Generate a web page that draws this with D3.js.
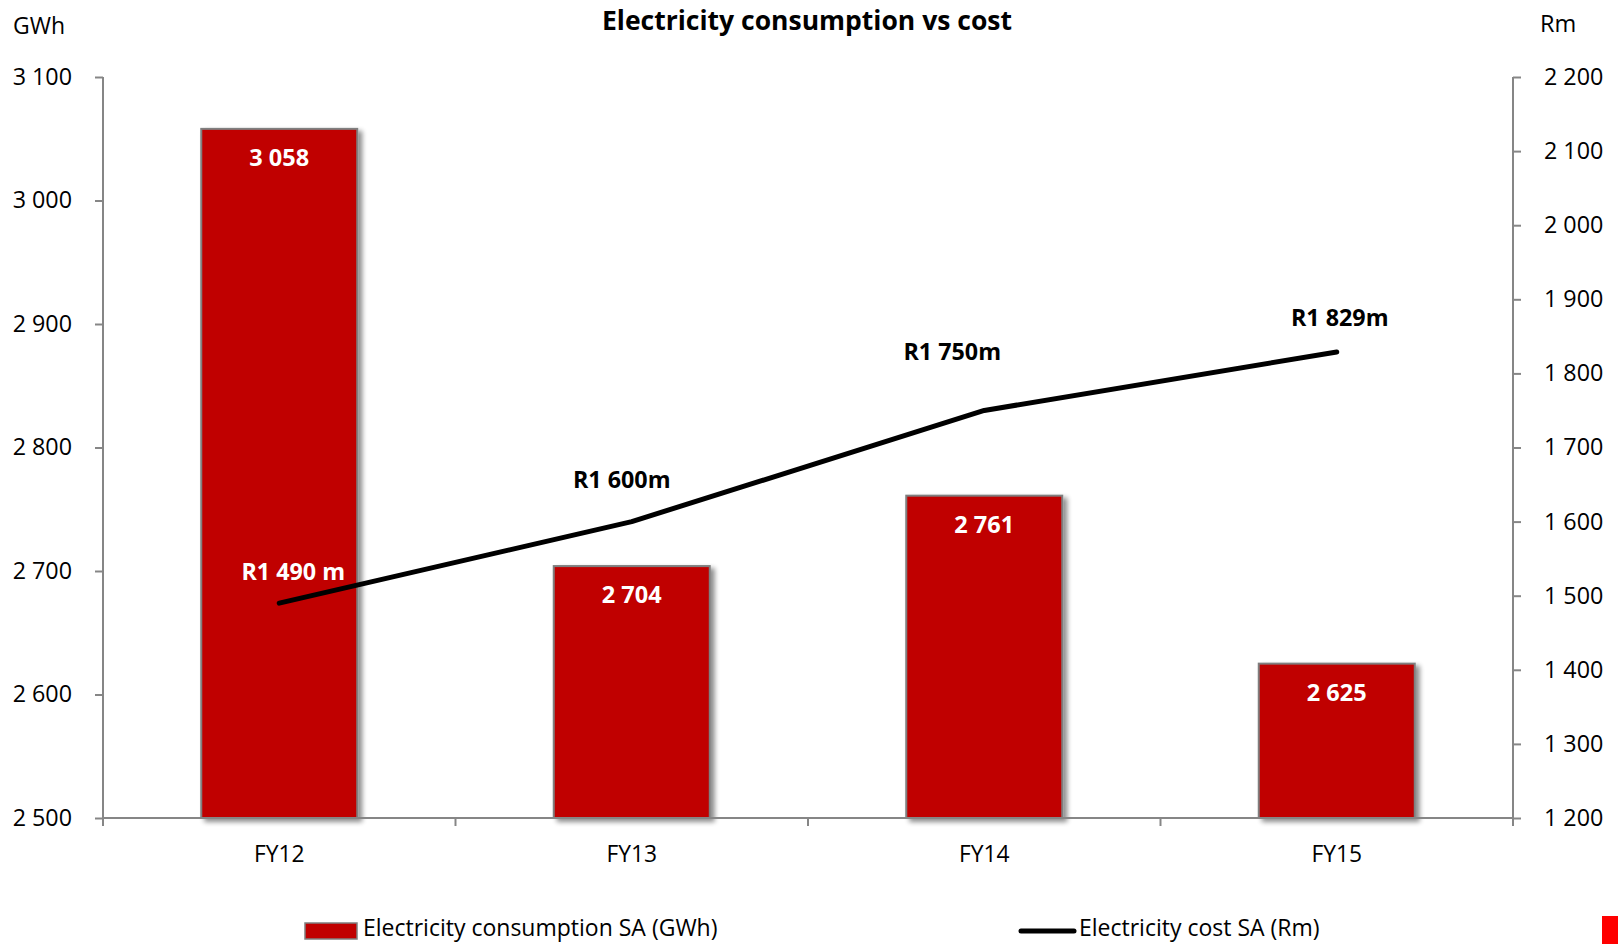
<!DOCTYPE html>
<html><head><meta charset="utf-8">
<script src="https://cdn.jsdelivr.net/npm/d3@7"></script>
<style>
html,body{margin:0;padding:0;background:#fff;}
svg{display:block;font-family:"Open Sans",sans-serif;}
</style></head>
<body>
<svg id="chart" width="1618" height="944"></svg>
<script>
const categories = ["FY12","FY13","FY14","FY15"];
const consumption = [3058, 2704, 2761, 2625];
const cost = [1490, 1600, 1750, 1829];
const consumptionLabels = ["3 058","2 704","2 761","2 625"];
const costLabels = ["R1 490 m","R1 600m","R1 750m","R1 829m"];
const leftTicks = [2500,2600,2700,2800,2900,3000,3100];
const rightTicks = [1200,1300,1400,1500,1600,1700,1800,1900,2000,2100,2200];
// label placement offsets (layout only): [dx, dy] from point
const costLabelOffsets = [[14,-31],[-10,-42],[-32,-58],[3,-34]];

const svg = d3.select("#chart");
const m = {left:103, right:1618-1513, top:77, bottom:944-818};
const W = 1618, H = 944;
const x = d3.scaleBand().domain(categories).range([m.left, W - m.right]).padding(0);
const yL = d3.scaleLinear().domain([2500,3100]).range([H - m.bottom, m.top]);
const yR = d3.scaleLinear().domain([1200,2200]).range([H - m.bottom, m.top]);
const fmt = d => d3.format(",")(d).replace(/,/g, " ");
const axisColor = "#868686";

const defs = svg.append("defs");
const f = defs.append("filter").attr("id","shadow").attr("x","-20%").attr("y","-20%").attr("width","150%").attr("height","150%");
f.append("feGaussianBlur").attr("in","SourceAlpha").attr("stdDeviation",2.5).attr("result","b");
f.append("feOffset").attr("in","b").attr("dx",4).attr("dy",3).attr("result","o");
f.append("feComponentTransfer").attr("in","o").attr("result","o2").append("feFuncA").attr("type","linear").attr("slope",0.45);
const mg = f.append("feMerge");
mg.append("feMergeNode").attr("in","o2");
mg.append("feMergeNode").attr("in","SourceGraphic");

// Title
svg.append("text").attr("x", 807).attr("y", 30).attr("text-anchor","middle")
  .attr("font-weight","bold").attr("font-size",26.5).attr("fill","#000").text("Electricity consumption vs cost");
svg.append("text").attr("x", 13).attr("y", 34).attr("font-size",23).attr("fill","#000").text("GWh");
svg.append("text").attr("x", 1540).attr("y", 32).attr("font-size",23.5).attr("fill","#000").text("Rm");

// Bars
const bw = 156;
svg.append("g").selectAll("rect").data(categories).join("rect")
  .attr("x", (d)=> x(d) + x.bandwidth()/2 - bw/2)
  .attr("y", (d,i)=> yL(consumption[i]))
  .attr("width", bw)
  .attr("height", (d,i)=> yL(2500) - yL(consumption[i]))
  .attr("fill","#C00000").attr("stroke","#7f7f7f").attr("stroke-width",2)
  .attr("filter","url(#shadow)");

// Axes
const gL = svg.append("g").attr("transform",`translate(${m.left},0)`)
  .call(d3.axisLeft(yL).tickValues(leftTicks).tickFormat(fmt).tickSize(8).tickPadding(23));
const gR = svg.append("g").attr("transform",`translate(${W-m.right},0)`)
  .call(d3.axisRight(yR).tickValues(rightTicks).tickFormat(fmt).tickSize(8).tickPadding(23));
const gB = svg.append("g").attr("transform",`translate(0,${H-m.bottom})`)
  .call(d3.axisBottom(x).tickSize(0).tickPadding(28));
[gL,gR,gB].forEach(g=>{
  g.select(".domain").attr("stroke",axisColor).attr("stroke-width",2);
  g.selectAll(".tick line").attr("stroke",axisColor).attr("stroke-width",2);
  g.selectAll(".tick text").attr("font-family","Open Sans").attr("font-size",23.3).attr("fill","#000");
});
gL.select(".domain").attr("d",`M0,${m.top}V${H-m.bottom}`);
gR.select(".domain").attr("d",`M0,${m.top}V${H-m.bottom}`);
gB.select(".domain").attr("d",`M${m.left},0H${W-m.right}`);
gB.selectAll(".tick text").attr("font-size",22.8);
// category boundary ticks
const bounds = categories.map(c=>x(c)).concat([x(categories[categories.length-1])+x.bandwidth()]);
gB.selectAll(".bt").data(bounds).join("line").attr("class","bt")
  .attr("x1",d=>d).attr("x2",d=>d).attr("y1",0).attr("y2",8)
  .attr("stroke",axisColor).attr("stroke-width",2);

// Bar labels
svg.append("g").selectAll("text").data(categories).join("text")
  .attr("x", d=> x(d)+x.bandwidth()/2)
  .attr("y", (d,i)=> yL(consumption[i]) + 37)
  .attr("text-anchor","middle").attr("font-weight","bold").attr("font-size",23.5).attr("fill","#fff")
  .text((d,i)=>consumptionLabels[i]);

// Line
const line = d3.line().x((d,i)=> x(categories[i]) + x.bandwidth()/2).y(d=> yR(d));
svg.append("path").datum(cost).attr("d", line).attr("fill","none")
  .attr("stroke","#000").attr("stroke-width",5).attr("stroke-linecap","round").attr("stroke-linejoin","round");

// Line labels
svg.append("g").selectAll("text").data(cost).join("text")
  .attr("x",(d,i)=> x(categories[i]) + x.bandwidth()/2 + costLabelOffsets[i][0])
  .attr("y",(d,i)=> yR(d) + costLabelOffsets[i][1] + 8)
  .attr("text-anchor","middle").attr("font-weight","bold").attr("font-size",23.3)
  .attr("fill",(d,i)=> i===0 ? "#fff" : "#000")
  .text((d,i)=>costLabels[i]);

// Legend
const lg = svg.append("g");
lg.append("rect").attr("x",305).attr("y",923).attr("width",52).attr("height",16)
  .attr("fill","#C00000").attr("stroke","#7f7f7f").attr("stroke-width",1.5);
lg.append("text").attr("x",363).attr("y",936).attr("font-size",23).attr("fill","#000").text("Electricity consumption SA (GWh)");
lg.append("line").attr("x1",1021).attr("x2",1074).attr("y1",931).attr("y2",931)
  .attr("stroke","#000").attr("stroke-width",5).attr("stroke-linecap","round");
lg.append("text").attr("x",1079).attr("y",936).attr("font-size",23).attr("fill","#000").text("Electricity cost SA (Rm)");
svg.append("rect").attr("x",1602).attr("y",916).attr("width",16).attr("height",28).attr("fill","#FF0000");
</script>
</body></html>
